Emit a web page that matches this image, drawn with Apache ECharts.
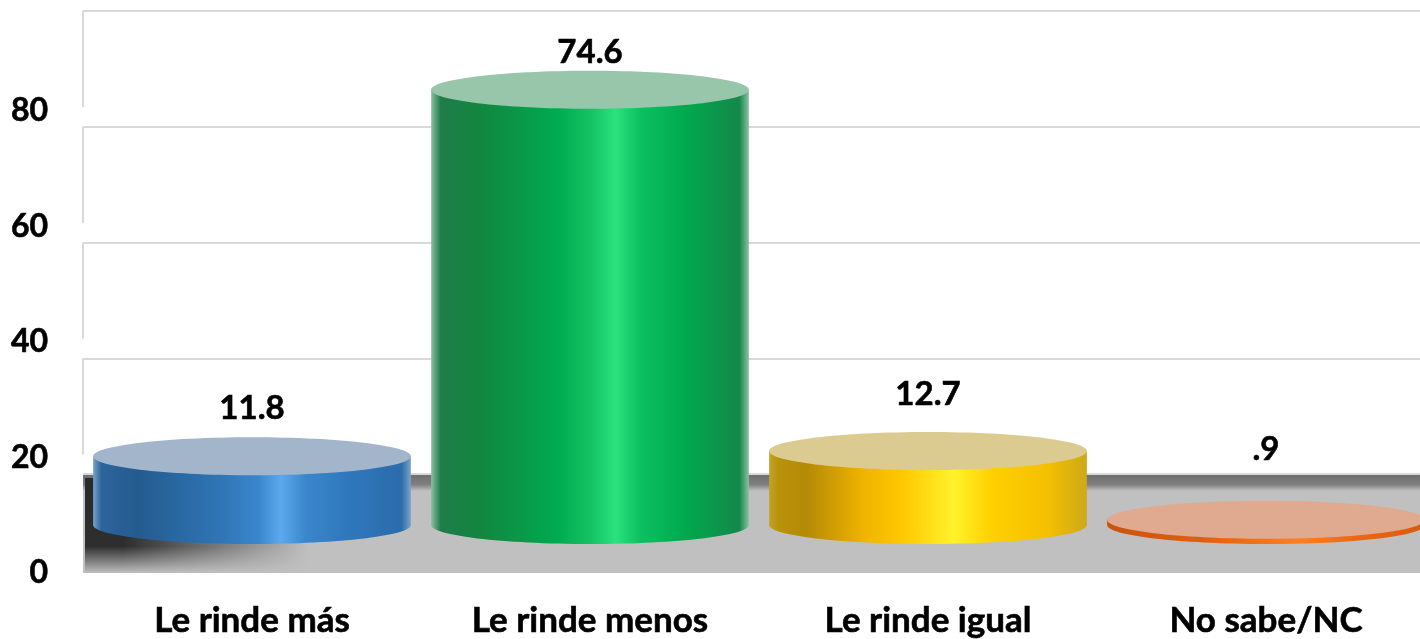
<!DOCTYPE html>
<html>
<head>
<meta charset="utf-8">
<style>
  html, body { margin: 0; padding: 0; background: #fff; }
  #chart { width: 1420px; height: 639px; }
</style>
<script src="https://cdn.jsdelivr.net/npm/echarts@6/dist/echarts.min.js"></script>
</head>
<body>
<div id="chart"></div>
<script>
const categories = ['Le rinde más', 'Le rinde menos', 'Le rinde igual', 'No sabe/NC']
const values = [11.8, 74.6, 12.7, 0.9]
const valueLabels = ['11.8', '74.6', '12.7', '.9']
const wallTicks = [100, 80, 60, 40]

// label height above each cylinder top, as placed in the original
const labelLift = [48, 37, 57, 70]

const FONT = 'Lato, "Open Sans", sans-serif'
const WALL = '#d9d9d9'
const RY = 19

const bodyStyles = [
  {
    top: '#a2b5ca',
    side: [[0, '#7ba3c9'], [0.025, '#2c659c'], [0.14, '#245b8f'], [0.4, '#2f75b5'], [0.52, '#3a86cc'], [0.59, '#5da9ee'], [0.67, '#3a86cc'], [0.8, '#2f78bd'], [0.97, '#2b6cab'], [1, '#7ba3c9']]
  },
  {
    top: '#97c6ab',
    side: [[0, '#8cc0a2'], [0.03, '#1f7d49'], [0.15, '#12853f'], [0.4, '#00ab50'], [0.5, '#14c263'], [0.58, '#2ae27e'], [0.66, '#0cc060'], [0.8, '#00a94e'], [0.97, '#14884a'], [1, '#8cc0a2']]
  },
  {
    top: '#dccb91',
    side: [[0, '#c4a22a'], [0.03, '#b89208'], [0.12, '#b58a06'], [0.3, '#f0b400'], [0.42, '#ffc800'], [0.58, '#fff22c'], [0.7, '#ffd000'], [0.88, '#f4bf00'], [1, '#cda91a']]
  },
  {
    top: '#dfaa8f',
    side: [[0, '#c9530f'], [0.3, '#e0600f'], [0.6, '#ff7f20'], [0.8, '#ea6612'], [1, '#d85a10']]
  }
]

function sideFill(stops) {
  return new echarts.graphic.LinearGradient(0, 0, 1, 0, stops.map(([offset, color]) => ({ offset, color })))
}

function renderCylinder(params, api) {
  const i = api.value(0)
  const top = api.coord([i, api.value(1)])
  const base = api.coord([i, 0])
  const halfWidth = api.size([1, 0])[0] * 0.47
  const style = bodyStyles[i]
  const fill = sideFill(style.side)

  return {
    type: 'group',
    children: [
      {
        type: 'ellipse',
        shape: { cx: base[0], cy: base[1], rx: halfWidth, ry: RY },
        style: { fill }
      },
      {
        type: 'rect',
        shape: { x: base[0] - halfWidth, y: top[1], width: halfWidth * 2, height: base[1] - top[1] },
        style: { fill }
      },
      {
        type: 'ellipse',
        shape: { cx: top[0], cy: top[1], rx: halfWidth, ry: RY },
        style: { fill: style.top }
      },
      {
        type: 'text',
        style: {
          x: top[0],
          y: top[1] - labelLift[i],
          text: valueLabels[i],
          fill: '#000',
          stroke: '#000',
          lineWidth: 0.6,
          font: 'bold 33px ' + FONT,
          align: 'center',
          verticalAlign: 'middle'
        }
      }
    ]
  }
}

function renderWallPost(params, api) {
  const start = api.coord([0, api.value(0)])
  const end = api.coord([0, api.value(0) - 16.6])
  return {
    type: 'line',
    shape: { x1: params.coordSys.x, y1: start[1], x2: params.coordSys.x, y2: end[1] },
    style: { stroke: WALL, lineWidth: 2 }
  }
}

const chart = echarts.init(document.getElementById('chart'))

chart.setOption({
  animation: false,
  backgroundColor: '#fff',
  graphic: [
    {
      type: 'rect',
      z: 1,
      shape: { x: 83, y: 475, width: 1337, height: 98 },
      style: { fill: '#c0c0c0' }
    },
    {
      type: 'rect',
      z: 1,
      shape: { x: 83, y: 475, width: 1337, height: 16 },
      style: {
        fill: new echarts.graphic.LinearGradient(0, 0, 0, 1, [
          { offset: 0, color: '#6f6f6f' },
          { offset: 0.6, color: '#808080' },
          { offset: 1, color: '#c0c0c0' }
        ])
      }
    },
    {
      type: 'rect',
      z: 1,
      shape: { x: 85, y: 478, width: 320, height: 95 },
      style: {
        fill: new echarts.graphic.LinearGradient(0, 0, 0, 1, [
          { offset: 0, color: '#2a2a2a' },
          { offset: 0.72, color: '#2e2e2e' },
          { offset: 0.9, color: '#8a8a8a' },
          { offset: 1, color: '#c0c0c0' }
        ])
      }
    },
    {
      type: 'rect',
      z: 1,
      shape: { x: 85, y: 478, width: 320, height: 95 },
      style: {
        fill: new echarts.graphic.LinearGradient(0, 0, 1, 0, [
          { offset: 0, color: 'rgba(192,192,192,0)' },
          { offset: 0.12, color: 'rgba(192,192,192,0)' },
          { offset: 0.7, color: 'rgba(192,192,192,1)' },
          { offset: 1, color: 'rgba(192,192,192,1)' }
        ])
      }
    }
  ],
  grid: [
    { left: 83, top: 111, width: 1352, height: 462, outerBoundsMode: 'none' },
    { left: 83, top: 11, width: 1337, height: 579, outerBoundsMode: 'none' },
    { left: 83, top: 0, width: 1352, height: 525, outerBoundsMode: 'none' }
  ],
  xAxis: [
    {
      gridIndex: 0,
      type: 'category',
      data: categories,
      axisLine: { show: false },
      axisTick: { show: false },
      axisLabel: { color: '#000', fontFamily: FONT, fontWeight: 'bold', fontSize: 35, margin: 30, textBorderColor: '#000', textBorderWidth: 0.6 }
    },
    { gridIndex: 1, type: 'category', show: false, data: categories },
    { gridIndex: 2, type: 'category', show: false, data: categories }
  ],
  yAxis: [
    {
      gridIndex: 0,
      type: 'value',
      min: 0,
      max: 80,
      interval: 20,
      axisLine: { show: false },
      axisTick: { show: false },
      splitLine: { show: false },
      axisLabel: { color: '#000', fontFamily: FONT, fontWeight: 'bold', fontSize: 32, margin: 35, textBorderColor: '#000', textBorderWidth: 0.6 }
    },
    {
      gridIndex: 1,
      type: 'value',
      min: 0,
      max: 100,
      interval: 20,
      axisLine: { show: false },
      axisTick: { show: false },
      axisLabel: { show: false },
      splitLine: { showMinLine: false, lineStyle: { color: WALL, width: 2 } }
    },
    { gridIndex: 2, type: 'value', min: 0, max: 90, show: false }
  ],
  series: [
    {
      type: 'custom',
      xAxisIndex: 1,
      yAxisIndex: 1,
      z: 0,
      silent: true,
      renderItem: renderWallPost,
      encode: { y: 0 },
      data: wallTicks.map((tick) => [tick])
    },
    {
      type: 'custom',
      xAxisIndex: 2,
      yAxisIndex: 2,
      z: 3,
      renderItem: renderCylinder,
      encode: { x: 0, y: 1 },
      data: values.map((value, index) => [index, value])
    }
  ]
})
</script>
</body>
</html>
